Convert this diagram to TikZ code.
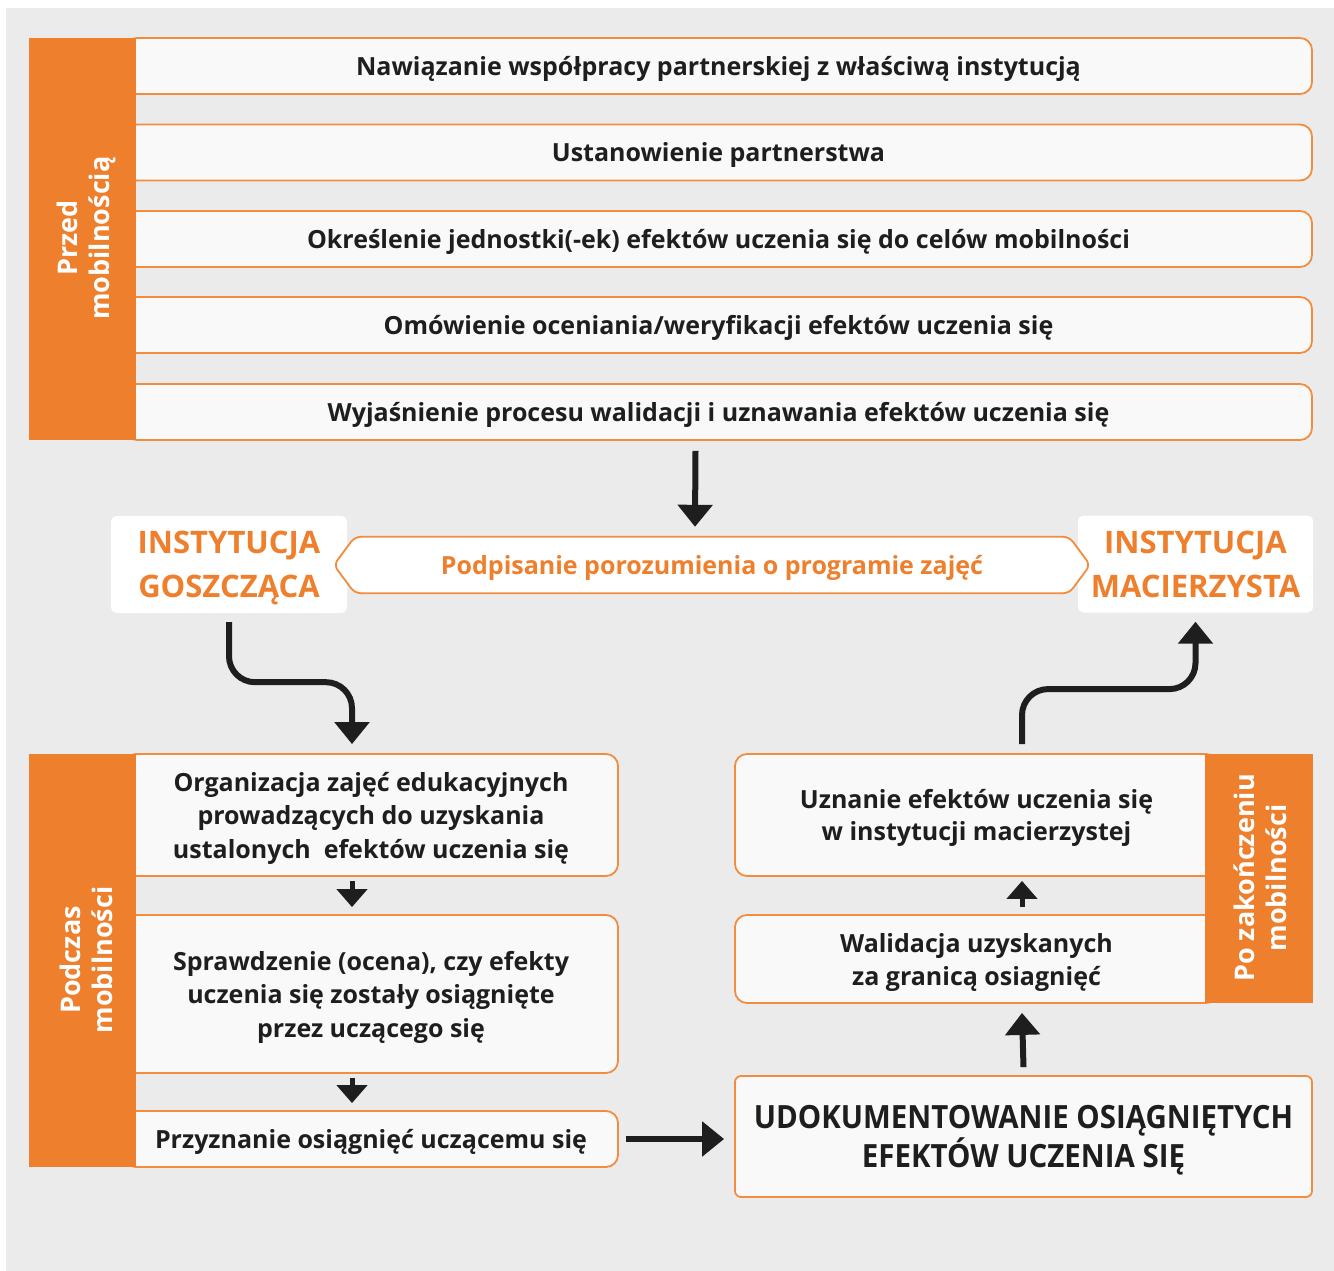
\documentclass[tikz,border=0pt]{standalone}
\usepackage{fontspec}
\setmainfont{Open Sans}
\newfontfamily\waski{Open Sans}[FakeStretch=0.92]
\usepackage{tikz}
\usetikzlibrary{calc,arrows.meta,positioning}

\definecolor{pomar}{HTML}{EE7F2D}
\definecolor{ramka}{HTML}{F28D40}
\definecolor{tlo}{HTML}{EBEBEB}
\definecolor{wnetrze}{HTML}{F9F9F9}
\definecolor{tekst}{HTML}{1E1E1E}

\tikzset{
  etap/.style={draw=ramka, line width=1.8pt, fill=wnetrze, rounded corners=12pt,
    text=tekst, align=center, inner sep=0pt, text depth=-2pt,
    font=\bfseries\fontsize{25}{33.5}\selectfont},
  inst/.style={fill=white, rounded corners=6pt, text=pomar, align=center,
    font=\bfseries\fontsize{31}{44}\selectfont, minimum height=97pt, text depth=0pt},
  faza/.style={rotate=90, text=white, align=center,
    font=\bfseries\fontsize{27}{32}\selectfont},
  strzalka/.style={draw=tekst, line width=6pt, -{Triangle[width=34pt,length=22pt]}},
  strzalka mala/.style={draw=tekst, line width=5pt, -{Triangle[width=30pt,length=18pt]}},
}

\begin{document}
\begin{tikzpicture}[x=1pt,y=-1pt]
\pgfmathsetmacro{\xgora}{718.5}%
\pgfmathsetmacro{\wgora}{1187}%
\pgfmathsetmacro{\hgora}{56}%
\pgfmathsetmacro{\xlewy}{371}%
\pgfmathsetmacro{\wlewy}{494}%
\pgfmathsetmacro{\xprawy}{976.5}%
\pgfmathsetmacro{\wprawy}{483}%

\useasboundingbox (0,0) rectangle (1334,1271);
\fill[white] (0,0) rectangle (1334,1271);
\fill[tlo] (6,8) rectangle (1334,1271);

%Przed mobilnoscia
\node[etap, minimum width=\wgora, minimum height=\hgora] (p1) at (\xgora,66) {Nawiązanie współpracy partnerskiej z właściwą instytucją};
\node[etap, minimum width=\wgora, minimum height=\hgora] (p2) at (\xgora,152.5) {Ustanowienie partnerstwa};
\node[etap, minimum width=\wgora, minimum height=\hgora] (p3) at (\xgora,239) {Określenie jednostki(-ek) efektów uczenia się do celów mobilności};
\node[etap, minimum width=\wgora, minimum height=\hgora] (p4) at (\xgora,325) {Omówienie oceniania/weryfikacji efektów uczenia się};
\node[etap, minimum width=\wgora, minimum height=\hgora] (p5) at (\xgora,412) {Wyjaśnienie procesu walidacji i uznawania efektów uczenia się};
\fill[pomar] (29,38) rectangle (136,440);
\node[faza] (przed) at (86,238) {Przed\\mobilnością};

%instytucje
\node[inst, minimum width=236pt] (goszczaca) at (229,564.5) {INSTYTUCJA\\GOSZCZĄCA};
\node[inst, minimum width=235pt] (macierzysta) at (1195.5,564) {INSTYTUCJA\\MACIERZYSTA};

%porozumienie
\node[minimum width=756pt, minimum height=56pt] (porozumienie) at (712,565) {};
\draw[draw=ramka, line width=1.8pt, fill=white, rounded corners=6pt]
  ([xshift=21pt]porozumienie.north west) -- ([xshift=-21pt]porozumienie.north east)
  -- (porozumienie.east) -- ([xshift=-21pt]porozumienie.south east)
  -- ([xshift=21pt]porozumienie.south west) -- (porozumienie.west) -- cycle;
\node[text=pomar, font=\bfseries\fontsize{25}{30}\selectfont, text depth=-4pt] (porozumienie tekst) at (porozumienie) {Podpisanie porozumienia o programie zajęć};

%Podczas mobilnosci
\node[etap, minimum width=\wlewy, minimum height=122] (organizacja) at (\xlewy,815) {Organizacja zajęć edukacyjnych\\prowadzących do uzyskania\\ustalonych\ \ efektów uczenia się};
\node[etap, minimum width=\wlewy, minimum height=158] (sprawdzenie) at (\xlewy,994) {Sprawdzenie (ocena), czy efekty\\uczenia się zostały osiągnięte\\przez uczącego się};
\node[etap, minimum width=\wlewy, minimum height=56] (przyznanie) at (\xlewy,1139) {Przyznanie osiągnięć uczącemu się};
\fill[pomar] (29,754) rectangle (136,1167);
\node[faza] (podczas) at (86,960) {Podczas\\mobilności};

%Po zakonczeniu
\node[etap, minimum width=\wprawy, minimum height=122, font=\bfseries\fontsize{25}{32}\selectfont] (uznanie) at (\xprawy,815) {Uznanie efektów uczenia się\\w instytucji macierzystej};
\node[etap, minimum width=\wprawy, minimum height=88, font=\bfseries\fontsize{25}{33}\selectfont] (walidacja) at (\xprawy,959) {Walidacja uzyskanych\\za granicą osiagnięć};
\fill[pomar] (1205,754) rectangle (1313,1003);
\node[faza] (po) at (1260,878) {Po zakończeniu\\mobilności};

\node[etap, minimum width=577, minimum height=121, rounded corners=6pt, text depth=-1.5pt, font=\waski\bfseries\fontsize{32}{37}\selectfont] (udokumentowanie) at (1023.5,1136.5) {UDOKUMENTOWANIE OSIĄGNIĘTYCH\\EFEKTÓW UCZENIA SIĘ};

%strzalki
\draw[strzalka] ([xshift=-23pt,yshift=-10pt]p5.south) -- ([xshift=-17pt,yshift=10pt]porozumienie.north);
\draw[strzalka, rounded corners=26pt] ([yshift=-9pt]goszczaca.south) -- ++(0,60) -| ([xshift=-19pt,yshift=9pt]organizacja.north);
\draw[strzalka, rounded corners=26pt] ([xshift=45.5pt,yshift=9pt]uznanie.north) -- ++(0,-55) -| ([yshift=-9pt]macierzysta.south);
\draw[strzalka mala] ([xshift=-19pt,yshift=-4pt]organizacja.south) -- ([xshift=-19pt,yshift=7pt]sprawdzenie.north);
\draw[strzalka mala] ([xshift=-19pt,yshift=-4pt]sprawdzenie.south) -- ([xshift=-19pt,yshift=7pt]przyznanie.north);
\draw[strzalka mala] ([xshift=45.5pt,yshift=7pt]walidacja.north) -- ([xshift=45.5pt,yshift=-4pt]uznanie.south);
\draw[strzalka] ([yshift=8pt]udokumentowanie.north) -- ([xshift=45.5pt,yshift=-9pt]walidacja.south);
\draw[strzalka] ([xshift=7pt]przyznanie.east) -- ([xshift=-10pt]przyznanie.east -| udokumentowanie.west);

\end{tikzpicture}
\end{document}
